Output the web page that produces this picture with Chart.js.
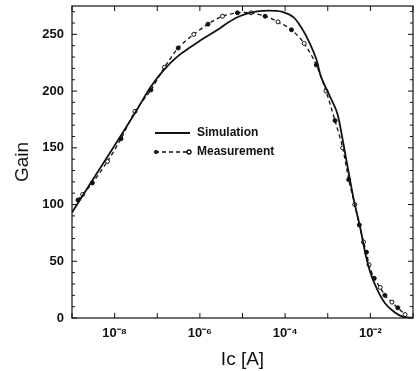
<!DOCTYPE html>
<html>
<head>
<meta charset="utf-8">
<script src="https://cdn.jsdelivr.net/npm/chart.js@4.4.1/dist/chart.umd.min.js"></script>
<style>
  html, body { margin: 0; padding: 0; background: #fff; }
  #wrap { width: 418px; height: 371px; }
</style>
</head>
<body>
<div id="wrap"><canvas id="grafico"></canvas></div>
<script>
// Simulation curve (solid)
let simIc   = [1e-9, 3.2e-9, 1e-8, 3.4e-8, 6.8e-8, 1.45e-7, 3.1e-7, 6.2e-7, 1.29e-6, 2.6e-6, 4.4e-6, 8.5e-6, 2.0e-5, 4.2e-5, 8.3e-5, 1.58e-4, 2.4e-4, 3.7e-4, 5.4e-4, 6.9e-4, 1.07e-3, 1.55e-3, 1.82e-3, 2.24e-3, 3.1e-3, 4.1e-3, 5.9e-3, 7.6e-3, 1e-2, 1.45e-2, 2.2e-2, 3.7e-2, 5.8e-2, 1e-1]
let simGain = [93, 123, 152, 184, 203, 219, 231, 239, 247, 254, 260, 266, 270, 271, 270, 265, 256, 243, 228, 213, 197, 184, 175, 157, 128, 104, 78, 57, 40, 25, 13, 5, 1, 0]

// Measurement points (dashed + markers)
let measIc   = [1.38e-9, 1.78e-9, 3.0e-9, 6.8e-9, 1.41e-8, 3.0e-8, 7.1e-8, 1.48e-7, 3.1e-7, 7.2e-7, 1.55e-6, 3.4e-6, 7.6e-6, 1.58e-5, 3.4e-5, 6.8e-5, 1.41e-4, 2.8e-4, 5.4e-4, 9.1e-4, 1.48e-3, 2.24e-3, 3.1e-3, 4.3e-3, 5.5e-3, 6.9e-3, 8.1e-3, 9.3e-3, 1.23e-2, 1.70e-2, 2.19e-2, 3.2e-2, 4.4e-2, 6.5e-2]
let measGain = [104, 109, 119, 138, 158, 182, 201, 221, 238, 250, 259, 266, 269, 269, 266, 261, 254, 242, 223, 200, 174, 150, 122, 100, 82, 67, 58, 47, 35, 27, 20, 14, 9, 3]

let yTicks = [0, 50, 100, 150, 200, 250]
let xLabelled = [-8, -6, -4, -2]
let sup = {'-': '\u207B', '0': '\u2070', '1': '\u00B9', '2': '\u00B2', '3': '\u00B3', '4': '\u2074', '5': '\u2075', '6': '\u2076', '7': '\u2077', '8': '\u2078', '9': '\u2079'}

let fontFam = '"Liberation Sans", Arial, sans-serif'

function noPad(s) {
    s.paddingTop = 0
    s.paddingBottom = 0
    s.paddingLeft = 0
    s.paddingRight = 0
}

// inward ticks, frame and legend drawn by hand
const framePlugin = {
    id: 'frame',
    afterDraw(chart) {
        let c = chart.ctx, a = chart.chartArea
        let xs = chart.scales.x, ys = chart.scales.y
        c.save()
        c.strokeStyle = '#111'
        c.lineWidth = 1.2
        c.strokeRect(a.left, a.top, a.right - a.left, a.bottom - a.top)
        c.lineWidth = 1
        c.beginPath()
        for (let e = -9; e <= -1; e++) {
            let px = xs.getPixelForValue(Math.pow(10, e))
            c.moveTo(px, a.bottom); c.lineTo(px, a.bottom - 5)
            c.moveTo(px, a.top); c.lineTo(px, a.top + 5)
        }
        for (let v = 0; v <= 270; v += 10) {
            let py = ys.getPixelForValue(v)
            let len = v % 50 == 0 ? 5 : 3
            c.moveTo(a.left, py); c.lineTo(a.left + len, py)
            c.moveTo(a.right, py); c.lineTo(a.right - len, py)
        }
        c.stroke()

        // legend
        let lx = a.left + 83, ly1 = a.top + 127, ly2 = a.top + 146
        c.lineWidth = 1.8
        c.beginPath(); c.moveTo(lx, ly1); c.lineTo(lx + 35, ly1); c.stroke()
        c.lineWidth = 1.3
        c.setLineDash([4, 3])
        c.beginPath(); c.moveTo(lx, ly2); c.lineTo(lx + 35, ly2); c.stroke()
        c.setLineDash([])
        c.fillStyle = '#111'
        c.beginPath(); c.arc(lx + 1, ly2, 2, 0, Math.PI * 2); c.fill()
        c.fillStyle = '#fff'
        c.beginPath(); c.arc(lx + 34, ly2, 2, 0, Math.PI * 2); c.fill(); c.stroke()
        c.fillStyle = '#111'
        c.font = 'bold 12px ' + fontFam
        c.textBaseline = 'middle'
        c.fillText(chart.data.datasets[0].label, lx + 42, ly1)
        c.fillText(chart.data.datasets[1].label, lx + 42, ly2)
        c.restore()
    }
}

let ctx = document.getElementById('grafico')
new Chart(ctx, {
    type: 'line',
    data: {
        datasets: [{
            label: 'Simulation',
            data: simIc.map((x, i) => ({x: x, y: simGain[i]})),
            borderColor: '#111',
            borderWidth: 1.8,
            pointRadius: 0,
            tension: 0.3
        }, {
            label: 'Measurement',
            data: measIc.map((x, i) => ({x: x, y: measGain[i]})),
            borderColor: '#111',
            borderWidth: 1.3,
            borderDash: [4, 3],
            pointRadius: 2,
            pointBorderWidth: 1,
            pointBorderColor: '#111',
            pointBackgroundColor: c => c.dataIndex % 2 ? '#fff' : '#111',
            tension: 0.3
        }]
    },
    options: {
        responsive: true,
        maintainAspectRatio: false,
        animation: false,
        layout: { padding: { top: 6, right: -4, left: 0, bottom: 0 } },
        plugins: { legend: { display: false }, tooltip: { enabled: false } },
        scales: {
            x: {
                type: 'logarithmic',
                min: 1e-9,
                max: 1e-1,
                grid: { display: false, drawTicks: false },
                border: { display: false },
                afterBuildTicks: s => {
                    s.ticks = xLabelled.map(e => ({ value: Math.pow(10, e) }))
                },
                afterFit: s => { s.height = 53; noPad(s) },
                ticks: {
                    color: '#111',
                    padding: 8,
                    maxRotation: 0,
                    autoSkip: false,
                    font: { family: fontFam, size: 13, weight: 'bold' },
                    callback: value => {
                        let e = String(Math.round(Math.log10(value)))
                        return '10' + e.split('').map(ch => sup[ch]).join('')
                    }
                },
                title: {
                    display: true,
                    text: 'Ic [A]',
                    color: '#111',
                    padding: { top: 4, bottom: 0 },
                    font: { family: fontFam, size: 19 }
                }
            },
            y: {
                min: 0,
                max: 275,
                grid: { display: false, drawTicks: false },
                border: { display: false },
                afterBuildTicks: s => {
                    s.ticks = yTicks.map(v => ({ value: v }))
                },
                afterFit: s => { s.width = 72; noPad(s) },
                ticks: {
                    color: '#111',
                    padding: 8,
                    font: { family: fontFam, size: 13, weight: 'bold' }
                },
                title: {
                    display: true,
                    text: 'Gain',
                    color: '#111',
                    padding: { top: 11, bottom: 0 },
                    font: { family: fontFam, size: 19 }
                }
            }
        }
    },
    plugins: [framePlugin]
});
</script>
</body>
</html>
